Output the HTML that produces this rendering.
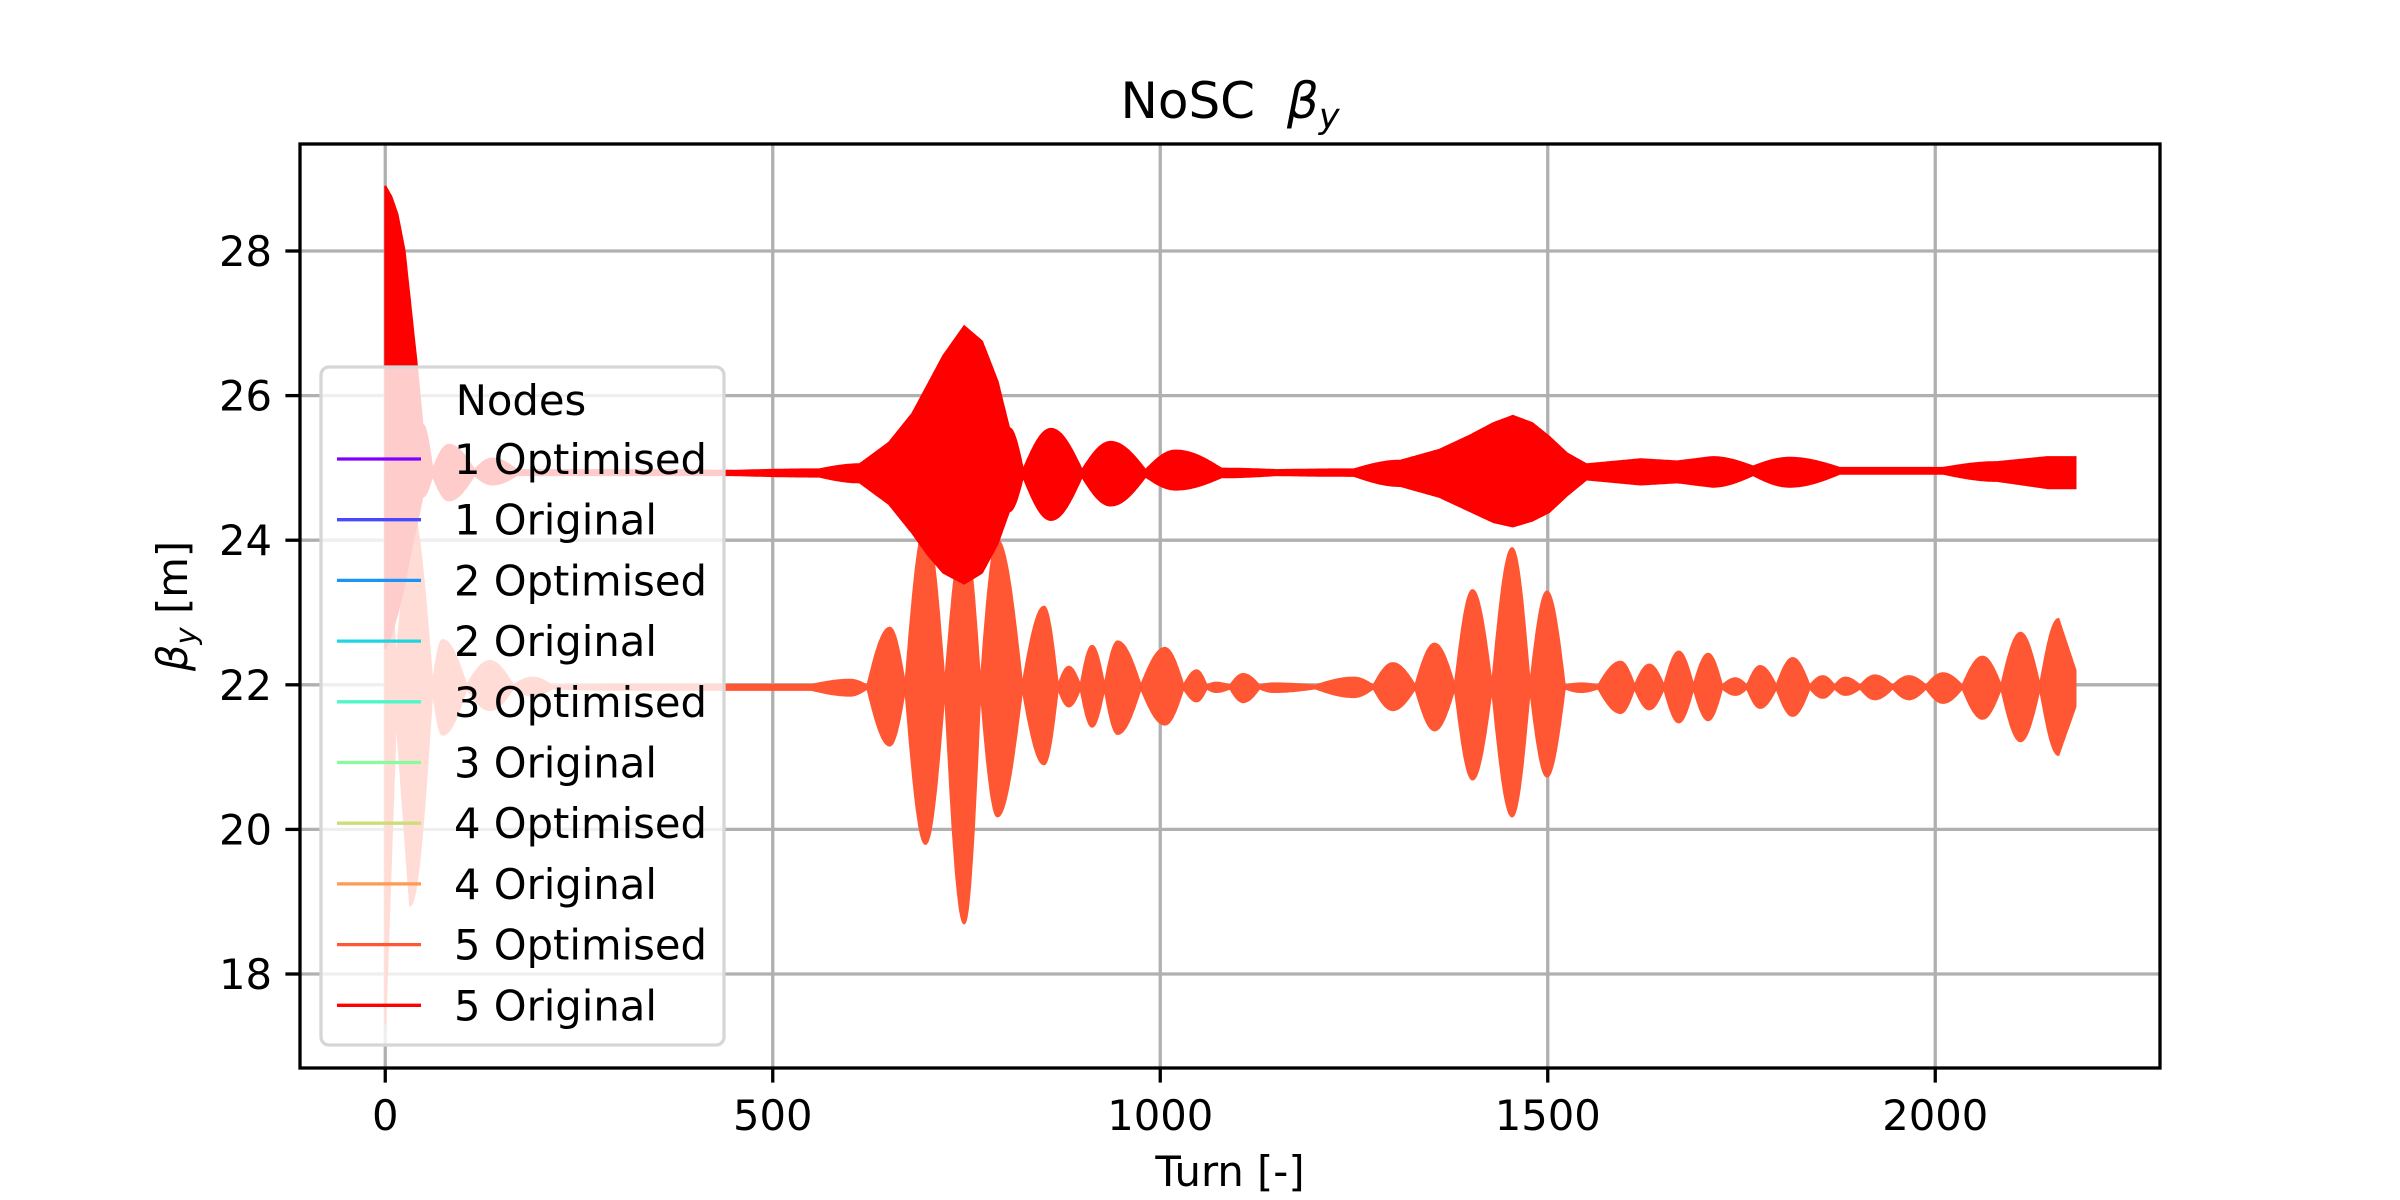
<!DOCTYPE html>
<html><head><meta charset="utf-8"><style>
html,body{margin:0;padding:0;background:#fff}
svg{display:block}
text{font-family:"DejaVu Sans","Liberation Sans",sans-serif;fill:#000}
</style></head><body>
<svg id="chart" width="2400" height="1200" viewBox="0 0 2400 1200">
<rect width="2400" height="1200" fill="#fff"/>
<g id="grid"></g>
<g id="series"></g>
<g id="axes"></g>
<text x="1230" y="118" text-anchor="middle" font-size="50" xml:space="preserve">NoSC&#160;&#160;<tspan font-style="italic">β</tspan><tspan font-style="italic" font-size="35" dy="10">y</tspan></text>
<text x="1230" y="1186" text-anchor="middle" font-size="41.7">Turn [-]</text>
<text transform="translate(187,606) rotate(-90)" text-anchor="middle" font-size="41.7"><tspan font-style="italic">β</tspan><tspan font-style="italic" font-size="29" dy="9">y</tspan><tspan dy="-9"> [m]</tspan></text>
<g id="legend"></g>
</svg>
<script>
// Axis domain
const xDomain = [-110, 2290];
const yDomain = [16.7, 29.48];
const xTicks = [0, 500, 1000, 1500, 2000];
const yTicks = [18, 20, 22, 24, 26, 28];

// 5 Optimised (orange) envelope
const optTurns = [0,14,32,61,74,105,135,165,190,215,300,550,600,622,651,671,697,722,747,768,790,822,850,868,882,897,912,928,945,975,1006,1030,1047,1060,1072,1090,1107,1128,1146,1200,1250,1275,1300,1329,1354,1380,1403,1428,1454,1477,1499,1522,1543,1565,1594,1612,1631,1650,1669,1688,1707,1725,1742,1757,1774,1795,1816,1838,1855,1870,1884,1903,1922,1945,1966,1988,2010,2035,2061,2085,2110,2135,2159,2181];
const optUpper = [25,22.3,24.5,21.99,22.62,21.99,22.33,21.99,22.1,21.99,22.0,22.0,22.07,21.99,22.79,21.99,24.2,21.99,24.1,21.99,24.0,21.99,23.08,21.99,22.25,21.99,22.54,21.99,22.6,21.99,22.51,21.99,22.2,21.99,22.03,21.99,22.15,21.99,22.02,21.99,22.1,21.99,22.3,21.99,22.57,21.99,23.31,21.99,23.89,21.99,23.29,21.99,22.02,21.99,22.32,21.99,22.28,21.99,22.46,21.99,22.43,21.99,22.09,21.99,22.26,21.99,22.37,21.99,22.12,21.99,22.1,21.99,22.13,21.99,22.12,21.99,22.16,21.99,22.39,21.99,22.72,21.99,22.91,22.2];
const optLower = [17.3,21.6,18.95,21.95,21.31,21.95,21.65,21.95,21.85,21.95,21.93,21.93,21.85,21.95,21.16,21.95,19.8,21.95,18.7,21.95,20.18,21.95,20.9,21.95,21.7,21.95,21.42,21.95,21.32,21.95,21.45,21.95,21.77,21.95,21.9,21.95,21.76,21.95,21.9,21.95,21.83,21.95,21.65,21.95,21.37,21.95,20.69,21.95,20.18,21.95,20.73,21.95,21.9,21.95,21.61,21.95,21.66,21.95,21.48,21.95,21.51,21.95,21.86,21.95,21.68,21.95,21.57,21.95,21.82,21.95,21.86,21.95,21.8,21.95,21.8,21.95,21.75,21.95,21.53,21.95,21.22,21.95,21.03,21.7];

// 5 Original (red) envelope
const origTurns = [0,8,16,25,32,40,48,61,82,115,138,170,300,450,560,612,650,680,700,720,747,770,790,805,823,859,899,936,981,1020,1079,1150,1250,1310,1360,1400,1430,1455,1480,1502,1525,1550,1620,1667,1712,1765,1812,1877,2010,2080,2145,2181];
const origUpper = [28.9,28.75,28.5,28.0,27.3,26.5,25.6,24.97,25.32,24.97,25.13,24.97,24.97,24.96,24.98,25.05,25.35,25.75,26.15,26.55,26.96,26.75,26.2,25.55,24.97,25.54,24.97,25.36,24.97,25.24,24.99,24.97,24.98,25.1,25.25,25.45,25.62,25.72,25.62,25.43,25.2,25.05,25.12,25.09,25.15,25.02,25.14,25.0,25.0,25.08,25.15,25.15];
const origLower = [22.5,22.7,23.0,23.4,23.8,24.2,24.6,24.9,24.55,24.9,24.77,24.9,24.9,24.9,24.88,24.8,24.5,24.1,23.8,23.55,23.4,23.55,23.95,24.4,24.88,24.28,24.88,24.48,24.88,24.7,24.87,24.9,24.89,24.75,24.6,24.4,24.25,24.19,24.27,24.39,24.62,24.84,24.77,24.8,24.74,24.9,24.74,24.92,24.92,24.82,24.72,24.72];

const legendLabels = ["1 Optimised","1 Original","2 Optimised","2 Original","3 Optimised","3 Original","4 Optimised","4 Original","5 Optimised","5 Original"];
const legendColors = ["#8000ff","#4848fc","#1996f3","#1ed6e0","#4ef7c8","#88fc9c","#cfdd78","#ff9a55","#ff5733","#ff0000"];

const L=300,R=2160,T=144,B=1068;
const NS="http://www.w3.org/2000/svg";
const sx=v=>L+(v-xDomain[0])/(xDomain[1]-xDomain[0])*(R-L);
const sy=v=>B-(v-yDomain[0])/(yDomain[1]-yDomain[0])*(B-T);
function mk(tag,attrs,parent){const e=document.createElementNS(NS,tag);for(const k in attrs)e.setAttribute(k,attrs[k]);parent.appendChild(e);return e;}

const grid=document.getElementById('grid'),axes=document.getElementById('axes'),series=document.getElementById('series'),legend=document.getElementById('legend');
xTicks.forEach(t=>{
  const g=mk('line',{x1:sx(t),x2:sx(t),y1:T,y2:B,stroke:'#b0b0b0','stroke-width':3.3},grid);
  
  
  const tk=mk('line',{x1:sx(t),x2:sx(t),y1:B,y2:B+14.6,stroke:'#000','stroke-width':3.3},axes);
  
  
  const tx=mk('text',{x:sx(t),y:B+62,'text-anchor':'middle','font-size':41.7},axes);
  tx.textContent=t;
  
  
});
yTicks.forEach(t=>{
  const g=mk('line',{x1:L,x2:R,y1:sy(t),y2:sy(t),stroke:'#b0b0b0','stroke-width':3.3},grid);
  
  
  const tk=mk('line',{x1:L-14.6,x2:L,y1:sy(t),y2:sy(t),stroke:'#000','stroke-width':3.3},axes);
  
  
  const tx=mk('text',{x:L-28,y:sy(t)+15,'text-anchor':'end','font-size':41.7},axes);
  tx.textContent=t;
  
  
});
const frame=mk('rect',{x:L,y:T,width:R-L,height:B-T,fill:'none',stroke:'#000','stroke-width':3.3},axes);



// envelope interpolation: pointed at nodes, rounded at lobe peaks
function interpBand(ts,up,lo,t){
  for(let i=0;i<ts.length-1;i++){
    if(t>=ts[i]&&t<=ts[i+1]){
      const f=(t-ts[i])/(ts[i+1]-ts[i]);
      const w0=up[i]-lo[i], w1=up[i+1]-lo[i+1];
      let s=f;
      if(Math.min(w0,w1)<0.2){
        s = (w1>=w0) ? Math.sin(Math.PI*f/2) : 1-Math.cos(Math.PI*f/2);
      }
      return [up[i]+(up[i+1]-up[i])*s, lo[i]+(lo[i+1]-lo[i])*s];
    }
  }
  return [up[up.length-1],lo[lo.length-1]];
}
function band(ts,up,lo,color,name){
  let top=[],bot=[];
  for(let t=ts[0];t<=ts[ts.length-1];t+=1){
    const v=interpBand(ts,up,lo,t);
    top.push(sx(t).toFixed(1)+','+sy(v[0]).toFixed(1));
    bot.push(sx(t).toFixed(1)+','+sy(v[1]).toFixed(1));
  }
  const p=mk('polygon',{points:top.concat(bot.reverse()).join(' '),fill:color,stroke:color,'stroke-width':2},series);
  
  
}
band(optTurns,optUpper,optLower,'#ff5733','series-5-optimised');
band(origTurns,origUpper,origLower,'#ff0000','series-5-original');

// legend
const lb=mk('rect',{x:321,y:367,width:403,height:678,rx:8,fill:'#fff','fill-opacity':0.8,stroke:'#d6d6d6','stroke-width':3.3},legend);


const lt=mk('text',{x:521,y:415,'text-anchor':'middle','font-size':41.7},legend);
lt.textContent='Nodes';


legendLabels.forEach((lab,i)=>{
  const y=459+i*60.7;
  const ln=mk('line',{x1:337,x2:421,y1:y,y2:y,stroke:legendColors[i],'stroke-width':3.3},legend);
  
  
  const tx=mk('text',{x:454,y:y+15,'font-size':41.7},legend);
  tx.textContent=lab;
  
  
});
</script>
</body></html>
